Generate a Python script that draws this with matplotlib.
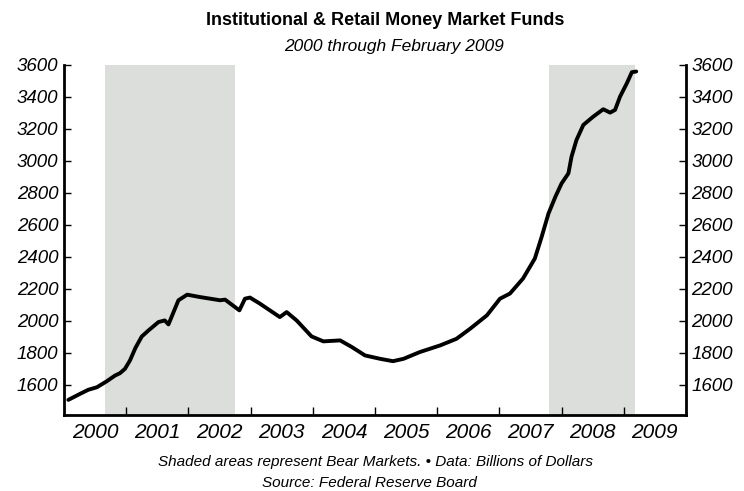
import numpy as np
import matplotlib.pyplot as plt

# Money market fund assets, billions of dollars
dates = [2000.07, 2000.26, 2000.39, 2000.53, 2000.69, 2000.82, 2000.90, 2000.98,
         2001.06, 2001.15, 2001.25, 2001.36, 2001.52, 2001.62, 2001.68, 2001.84,
         2001.98, 2002.19, 2002.51, 2002.59, 2002.82, 2002.91, 2002.99, 2003.15,
         2003.47, 2003.58, 2003.74, 2003.98, 2004.17, 2004.44, 2004.63, 2004.84,
         2005.08, 2005.29, 2005.46, 2005.72, 2006.05, 2006.31, 2006.53, 2006.80,
         2007.01, 2007.17, 2007.38, 2007.57, 2007.68, 2007.79, 2007.90, 2008.00,
         2008.11, 2008.16, 2008.24, 2008.35, 2008.51, 2008.67, 2008.78, 2008.86,
         2008.94, 2009.05, 2009.13, 2009.20]
assets = [1504, 1542, 1567, 1583, 1621, 1656, 1671, 1698,
          1750, 1830, 1900, 1939, 1991, 2001, 1976, 2127,
          2162, 2147, 2127, 2131, 2064, 2137, 2144, 2106,
          2022, 2053, 2001, 1901, 1870, 1876, 1834, 1782,
          1761, 1746, 1761, 1803, 1845, 1886, 1949, 2033,
          2137, 2169, 2263, 2388, 2524, 2670, 2774, 2858,
          2921, 3025, 3130, 3224, 3276, 3322, 3301, 3318,
          3401, 3485, 3554, 3558]

# bear market periods
bear_start = [2000.66, 2007.80]
bear_end = [2002.75, 2009.18]

years = list(range(2000, 2010))
yticks = list(range(1600, 3601, 200))

narrow = ['Liberation Sans Narrow', 'Liberation Sans', 'DejaVu Sans']
plt.rcParams['font.family'] = ['Liberation Sans', 'DejaVu Sans']

fig = plt.figure(figsize=(7.44, 4.91), dpi=100)
ax = fig.add_axes([0.086, 0.155, 0.836, 0.713])

for s, e in zip(bear_start, bear_end):
    ax.axvspan(s, e, color='#dcdedb', lw=0, zorder=0)

ax.plot(dates, assets, color='black', lw=2.8, solid_joinstyle='round',
        solid_capstyle='round', zorder=3)

ax.set_xlim(2000, 2010)
ax.set_ylim(1410, 3600)

ax.set_xticks(years[1:])
ax.set_xticklabels([])
ax.set_xticks([y + 0.5 for y in years], minor=True)
ax.set_xticklabels([str(y) for y in years], minor=True, fontstyle='italic',
                   fontsize=15, family=narrow)
ax.tick_params(axis='x', which='major', direction='in', length=6, width=1)
ax.tick_params(axis='x', which='minor', length=0, pad=6)

ax.set_yticks(yticks)
ax.set_yticklabels([str(v) for v in yticks], fontstyle='italic', fontsize=13.5)
ax.tick_params(axis='y', direction='in', length=5, width=1, left=True, right=True,
               labelleft=True, labelright=True, pad=4)

for sp in ['left', 'right', 'bottom']:
    ax.spines[sp].set_linewidth(2)
ax.spines['top'].set_visible(False)

fig.text(0.518, 0.958, 'Institutional & Retail Money Market Funds', ha='center',
         va='center', fontsize=13, fontweight='bold', family=narrow)
fig.text(0.53, 0.905, '2000 through February 2009', ha='center', va='center',
         fontsize=12.5, fontstyle='italic', family=narrow)
fig.text(0.505, 0.059, 'Shaded areas represent Bear Markets. \u2022 Data: Billions of Dollars',
         ha='center', va='center', fontsize=11, fontstyle='italic', family=narrow)
fig.text(0.497, 0.017, 'Source: Federal Reserve Board', ha='center', va='center',
         fontsize=11, fontstyle='italic', family=narrow)

fig.savefig('out.png', dpi=100)
